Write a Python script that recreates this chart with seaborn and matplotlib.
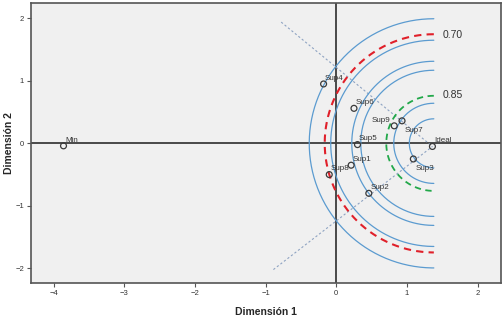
import numpy as np
import pandas as pd
import matplotlib
matplotlib.use("Agg")
import matplotlib.pyplot as plt
import seaborn as sns

# point coordinates
labels = ["Min", "Ideal", "Sup4", "Sup6", "Sup9", "Sup7", "Sup5", "Sup1", "Sup8", "Sup2", "Sup3"]
dim1 = [-3.86, 1.36, -0.18, 0.25, 0.82, 0.93, 0.30, 0.21, -0.10, 0.46, 1.09]
dim2 = [-0.04, -0.05, 0.95, 0.56, 0.28, 0.36, -0.02, -0.35, -0.50, -0.80, -0.25]

# concentric half circles around the ideal point (radius in Dimension 1 units)
arc_center = (1.38, 0.0)
arc_radii = [0.347, 0.567, 0.673, 1.034, 1.161, 1.459, 1.544, 1.763]
arc_kind = ["solid", "solid", "0.85", "solid", "solid", "solid", "0.70", "solid"]

# guide lines that end at the ideal point
guide_starts_x = [-0.78, -0.89]
guide_starts_y = [1.94, -2.02]

df = pd.DataFrame({"label": labels, "dim1": dim1, "dim2": dim2})

sns.set_style("white", {"axes.facecolor": "#f0f0f0"})
plt.rcParams["font.family"] = ["Liberation Sans", "DejaVu Sans"]

fig = plt.figure(figsize=(5.04, 3.16), dpi=100)
ax = fig.add_axes([0.0615, 0.1044, 0.9325, 0.886])
ax.set_xlim(-4.32, 2.33)
ax.set_ylim(-2.235, 2.245)

# display aspect so the arcs are round on screen
bb = ax.get_window_extent()
k = (bb.width / 6.65) / (bb.height / 4.48)

ax.axhline(0, color="#3c3c3c", lw=1.3, zorder=1)
ax.axvline(0, color="#3c3c3c", lw=1.3, zorder=1)

ideal = df[df["label"] == "Ideal"].iloc[0]
for gx, gy in zip(guide_starts_x, guide_starts_y):
    ax.plot([gx, ideal["dim1"]], [gy, ideal["dim2"]], ls=(0, (2, 2)),
            color="#8ea3c2", lw=0.8, zorder=2)

theta = np.linspace(np.pi / 2, 3 * np.pi / 2, 200)
styles = {"solid": dict(color="#5b9bd0", lw=0.9, ls="-"),
          "0.70": dict(color="#e0202a", lw=1.5, ls=(0, (3.5, 2.5))),
          "0.85": dict(color="#22a84a", lw=1.3, ls=(0, (3.5, 2.5)))}
for r, kind in zip(arc_radii, arc_kind):
    ax.plot(arc_center[0] + r * np.cos(theta),
            arc_center[1] + r * k * np.sin(theta), zorder=3, **styles[kind])

sns.scatterplot(data=df, x="dim1", y="dim2", ax=ax, s=18, marker="o",
                facecolor="none", edgecolor="#3a3a3a", linewidth=0.9, zorder=5)

offsets = {"Sup9": (-16, 3), "Sup7": (2, -8), "Sup3": (2, -8)}
for _, row in df.iterrows():
    dx, dy = offsets.get(row["label"], (1, 3))
    ax.annotate(row["label"], (row["dim1"], row["dim2"]), xytext=(dx, dy),
                textcoords="offset points", fontsize=5.8, color="#333333")

ax.text(1.50, 1.73, "0.70", fontsize=7.5, color="#333333", va="center")
ax.text(1.50, 0.77, "0.85", fontsize=7.5, color="#333333", va="center")

ax.set_xticks([-4, -3, -2, -1, 0, 1, 2])
ax.set_yticks([-2, -1, 0, 1, 2])
ax.tick_params(axis="both", labelsize=5.5, length=3, width=0.8, color="#555555",
               labelcolor="#333333", pad=2, direction="out", bottom=True, left=True)
for sp in ax.spines.values():
    sp.set_color("#555555")
    sp.set_linewidth(1.2)

ax.set_xlabel("Dimensión 1", fontsize=7.5, fontweight="bold", labelpad=7)
ax.set_ylabel("Dimensión 2", fontsize=7.5, fontweight="bold", labelpad=1)

fig.savefig("out.png", dpi=100)
